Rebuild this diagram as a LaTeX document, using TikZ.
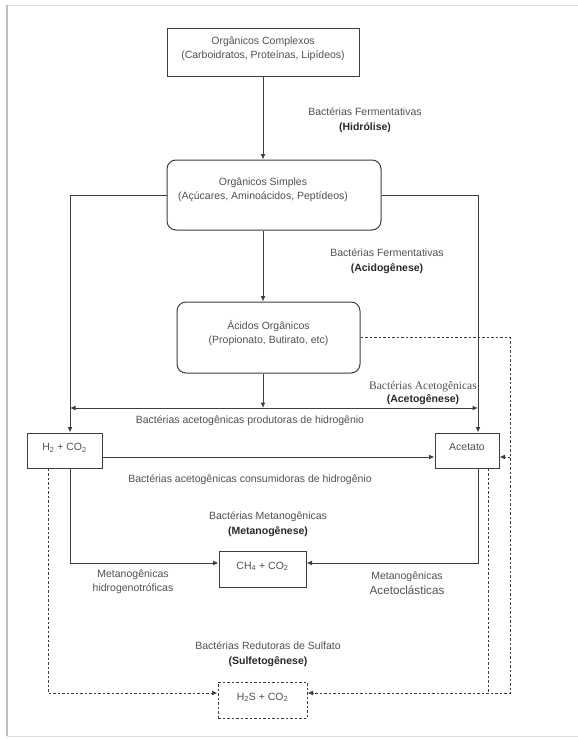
\documentclass[tikz,border=0pt]{standalone}
\usepackage{fontspec}
\setmainfont{Liberation Sans}
\newfontfamily\timesfont{Liberation Serif}
\usepackage{tikz}
\usetikzlibrary{arrows.meta, positioning}
\definecolor{linegray}{RGB}{62,62,62}
\definecolor{textgray}{RGB}{80,80,80}
\definecolor{boldgray}{RGB}{40,40,40}

\tikzset{
  flowbox/.style={draw=linegray, line width=1pt, text=textgray, align=center,
    font=\fontsize{10.5}{14}\selectfont},
  roundbox/.style={flowbox, rounded corners=9pt},
  smallbox/.style={flowbox, text height=0pt, text depth=0pt, inner ysep=0pt},
  flowlbl/.style={text=textgray, align=center, font=\fontsize{10.5}{14.5}\selectfont},
  flow/.style={draw=linegray, line width=1pt},
  dotflow/.style={flow, dash pattern=on 2.5pt off 2pt},
  tip/.style={-{Latex[length=5.5pt,width=5pt]}},
}
\newcommand{\stage}[1]{\textcolor{boldgray}{\textbf{#1}}}

\begin{document}
\begin{tikzpicture}[x=1pt, y=-1pt]
    \useasboundingbox (0,0) rectangle (578,739);
    % page frame
    \draw[gray!25, line width=1pt] (7,5) rectangle (600,736);
    \draw[gray!50, line width=2pt] (7,5) -- (7,736);

    % boxes
    \node[flowbox, minimum width=192pt, minimum height=48pt, text depth=9pt] (complexos) at (263,52)
        {Orgânicos Complexos\\(Carboidratos, Proteínas, Lipídeos)};
    \node[roundbox, minimum width=214pt, minimum height=70pt] (simples) at (274,195) {};
    \node[flowlbl] (simplesT) at (263,190) {Orgânicos Simples\\(Açúcares, Aminoácidos, Peptídeos)};
    \node[roundbox, minimum width=183pt, minimum height=71pt, text depth=11pt] (acidos) at (268.5,337.5)
        {Ácidos Orgânicos\\(Propionato, Butirato, etc)};
    \node[smallbox, minimum width=75pt, minimum height=35pt] (h2) at (64.5,450.5)
        {H\textsubscript{2} + CO\textsubscript{2}};
    \node[smallbox, minimum width=64pt, minimum height=35pt] (acetato) at (467,450.5) {Acetato};
    \node[smallbox, minimum width=87pt, minimum height=36pt] (ch4) at (262.5,569)
        {CH\textsubscript{4} + CO\textsubscript{2}};
    \node[smallbox, dash pattern=on 2.5pt off 2pt, minimum width=89pt, minimum height=36pt] (h2s) at (262.5,700)
        {H\textsubscript{2}S + CO\textsubscript{2}};

    % labels
    \node[flowlbl] (hidrolise) at (365,120) {Bactérias Fermentativas\\\stage{(Hidrólise)}};
    \node[flowlbl] (acidogenese) at (387,261) {Bactérias Fermentativas\\\stage{(Acidogênese)}};
    \node[flowlbl] (acetogenese) at (423,393)
        {{\timesfont\fontsize{11.5}{13}\selectfont Bactérias Acetogênicas}\\[-1.5pt]\stage{(Acetogênese)}};
    \node[flowlbl] (produtoras) at (250,421) {Bactérias acetogênicas produtoras de hidrogênio};
    \node[flowlbl] (consumidoras) at (250,480) {Bactérias acetogênicas consumidoras de hidrogênio};
    \node[flowlbl] (metanogenese) at (268,524) {Bactérias Metanogênicas\\\stage{(Metanogênese)}};
    \node[flowlbl] (hidrogenotr) at (133,582) {Metanogênicas\\hidrogenotróficas};
    \node[flowlbl] (acetoclast) at (407,583)
        {Metanogênicas\\{\fontsize{11.7}{14}\selectfont Acetoclásticas}};
    \node[flowlbl] (sulfeto) at (268,654) {Bactérias Redutoras de Sulfato\\\stage{(Sulfetogênese)}};

    % guide coordinates
    \coordinate (cx) at (263,0);
    \coordinate (lx) at (70,0);
    \coordinate (rx) at (478,0);
    \coordinate (dl) at (48,0);
    \coordinate (dr) at (488,0);
    \coordinate (de) at (510,0);
    \coordinate (yacet) at (0,408);
    \coordinate (yh2) at (0,457);
    \coordinate (ymet) at (0,563);
    \coordinate (ysul) at (0,693);

    % solid connectors
    \draw[flow, tip] (complexos.south -| cx) -- (simples.north -| cx);
    \draw[flow, tip] (simples.south -| cx) -- (acidos.north -| cx);
    \draw[flow, tip] (simples.west) -| (h2.north -| lx);
    \draw[flow, tip] (simples.east) -| (acetato.north -| rx);
    \draw[flow, tip] (acidos.south -| cx) -- (cx |- yacet);
    \draw[flow, {Latex[length=5.5pt,width=5pt]}-{Latex[length=5.5pt,width=5pt]}]
        (lx |- yacet) -- (rx |- yacet);
    \draw[flow, tip] (h2.east |- yh2) -- (acetato.west |- yh2);
    \draw[flow, tip] (h2.south -| lx) |- (ch4.west |- ymet);
    \draw[flow, tip] (acetato.south -| rx) |- (ch4.east |- ymet);

    % dotted connectors
    \draw[dotflow, tip] (h2.south -| dl) |- (h2s.west |- ysul);
    \draw[dotflow, tip] (acidos.east) -| (de |- ysul) -- (h2s.east |- ysul);
    \draw[dotflow, tip] (de |- yh2) -- (acetato.east |- yh2);
    \draw[dotflow] (acetato.south -| dr) -- (dr |- ysul);
\end{tikzpicture}
\end{document}
